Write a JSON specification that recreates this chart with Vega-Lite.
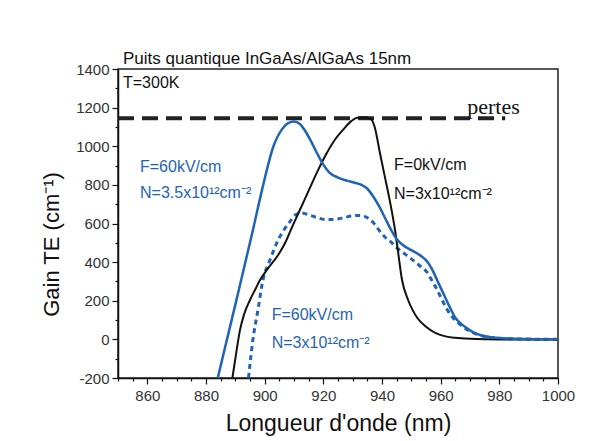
{
  "$schema": "https://vega.github.io/schema/vega-lite/v6.json",
  "autosize": {"type": "none"},
  "width": 440,
  "height": 309,
  "padding": {"left": 118, "top": 69, "right": 40, "bottom": 63},
  "background": "white",
  "config": {
    "view": {"stroke": "#222", "strokeWidth": 1.5},
    "axis": {
      "domainColor": "#111",
      "domainWidth": 1.5,
      "tickColor": "#111",
      "tickWidth": 1.2,
      "labelColor": "#333",
      "labelFont": "Liberation Sans",
      "labelFontSize": 15,
      "titleFont": "Liberation Sans",
      "titleFontSize": 22,
      "titleFontWeight": "normal",
      "titleColor": "#111",
      "grid": false
    }
  },
  "datasets": {
    "curves": [
      {"series": "F0N3", "x": 889, "y": -200},
      {"series": "F0N3", "x": 890.5, "y": -50},
      {"series": "F0N3", "x": 891.6, "y": 49},
      {"series": "F0N3", "x": 893, "y": 130},
      {"series": "F0N3", "x": 895, "y": 204},
      {"series": "F0N3", "x": 897, "y": 265},
      {"series": "F0N3", "x": 898.4, "y": 307},
      {"series": "F0N3", "x": 901, "y": 365},
      {"series": "F0N3", "x": 904.6, "y": 437},
      {"series": "F0N3", "x": 907, "y": 500},
      {"series": "F0N3", "x": 909, "y": 570},
      {"series": "F0N3", "x": 912, "y": 670},
      {"series": "F0N3", "x": 915, "y": 770},
      {"series": "F0N3", "x": 918, "y": 870},
      {"series": "F0N3", "x": 921, "y": 960},
      {"series": "F0N3", "x": 924, "y": 1035},
      {"series": "F0N3", "x": 927, "y": 1090},
      {"series": "F0N3", "x": 929.5, "y": 1130},
      {"series": "F0N3", "x": 931.5, "y": 1148},
      {"series": "F0N3", "x": 934, "y": 1150},
      {"series": "F0N3", "x": 936, "y": 1143},
      {"series": "F0N3", "x": 937.5, "y": 1100},
      {"series": "F0N3", "x": 939.3, "y": 965},
      {"series": "F0N3", "x": 941, "y": 840},
      {"series": "F0N3", "x": 942.5, "y": 730},
      {"series": "F0N3", "x": 943.5, "y": 650},
      {"series": "F0N3", "x": 944.5, "y": 560},
      {"series": "F0N3", "x": 945.5, "y": 450},
      {"series": "F0N3", "x": 946.8, "y": 310},
      {"series": "F0N3", "x": 948.9, "y": 204},
      {"series": "F0N3", "x": 950.5, "y": 150},
      {"series": "F0N3", "x": 952, "y": 112},
      {"series": "F0N3", "x": 955, "y": 65},
      {"series": "F0N3", "x": 958, "y": 35},
      {"series": "F0N3", "x": 961, "y": 18},
      {"series": "F0N3", "x": 965, "y": 8},
      {"series": "F0N3", "x": 970, "y": 3},
      {"series": "F0N3", "x": 980, "y": 0},
      {"series": "F0N3", "x": 1000, "y": 0},

      {"series": "F60N35", "x": 884, "y": -200},
      {"series": "F60N35", "x": 890, "y": 180},
      {"series": "F60N35", "x": 896, "y": 566},
      {"series": "F60N35", "x": 899.5, "y": 800},
      {"series": "F60N35", "x": 903, "y": 1000},
      {"series": "F60N35", "x": 906, "y": 1090},
      {"series": "F60N35", "x": 908, "y": 1120},
      {"series": "F60N35", "x": 910, "y": 1128},
      {"series": "F60N35", "x": 912, "y": 1115},
      {"series": "F60N35", "x": 914, "y": 1075},
      {"series": "F60N35", "x": 916, "y": 1020},
      {"series": "F60N35", "x": 918, "y": 960},
      {"series": "F60N35", "x": 920, "y": 905},
      {"series": "F60N35", "x": 922, "y": 865},
      {"series": "F60N35", "x": 925, "y": 838},
      {"series": "F60N35", "x": 928, "y": 822},
      {"series": "F60N35", "x": 931, "y": 810},
      {"series": "F60N35", "x": 933, "y": 800},
      {"series": "F60N35", "x": 935, "y": 780},
      {"series": "F60N35", "x": 937, "y": 740},
      {"series": "F60N35", "x": 939, "y": 690},
      {"series": "F60N35", "x": 941, "y": 630},
      {"series": "F60N35", "x": 943, "y": 570},
      {"series": "F60N35", "x": 945, "y": 520},
      {"series": "F60N35", "x": 947, "y": 490},
      {"series": "F60N35", "x": 950, "y": 462},
      {"series": "F60N35", "x": 953, "y": 435},
      {"series": "F60N35", "x": 955, "y": 410},
      {"series": "F60N35", "x": 957, "y": 365},
      {"series": "F60N35", "x": 959, "y": 300},
      {"series": "F60N35", "x": 961, "y": 235},
      {"series": "F60N35", "x": 963, "y": 170},
      {"series": "F60N35", "x": 965, "y": 112},
      {"series": "F60N35", "x": 967, "y": 80},
      {"series": "F60N35", "x": 969, "y": 58},
      {"series": "F60N35", "x": 971, "y": 38},
      {"series": "F60N35", "x": 974, "y": 20},
      {"series": "F60N35", "x": 978, "y": 10},
      {"series": "F60N35", "x": 984, "y": 4},
      {"series": "F60N35", "x": 992, "y": 1},
      {"series": "F60N35", "x": 1000, "y": 0},

      {"series": "F60N3", "x": 894.5, "y": -200},
      {"series": "F60N3", "x": 896, "y": 0},
      {"series": "F60N3", "x": 897.7, "y": 152},
      {"series": "F60N3", "x": 899.4, "y": 307},
      {"series": "F60N3", "x": 901.8, "y": 411},
      {"series": "F60N3", "x": 904.6, "y": 515},
      {"series": "F60N3", "x": 906.5, "y": 565},
      {"series": "F60N3", "x": 908.6, "y": 610},
      {"series": "F60N3", "x": 910.5, "y": 645},
      {"series": "F60N3", "x": 912.5, "y": 655},
      {"series": "F60N3", "x": 915, "y": 645},
      {"series": "F60N3", "x": 918, "y": 630},
      {"series": "F60N3", "x": 921, "y": 620},
      {"series": "F60N3", "x": 924, "y": 622},
      {"series": "F60N3", "x": 927, "y": 630},
      {"series": "F60N3", "x": 930, "y": 640},
      {"series": "F60N3", "x": 932.5, "y": 642},
      {"series": "F60N3", "x": 935, "y": 630},
      {"series": "F60N3", "x": 937, "y": 605},
      {"series": "F60N3", "x": 939, "y": 565},
      {"series": "F60N3", "x": 941, "y": 530},
      {"series": "F60N3", "x": 943, "y": 505},
      {"series": "F60N3", "x": 945, "y": 475},
      {"series": "F60N3", "x": 948, "y": 440},
      {"series": "F60N3", "x": 951, "y": 405},
      {"series": "F60N3", "x": 953, "y": 380},
      {"series": "F60N3", "x": 955.3, "y": 349},
      {"series": "F60N3", "x": 957, "y": 305},
      {"series": "F60N3", "x": 958.5, "y": 265},
      {"series": "F60N3", "x": 960.5, "y": 204},
      {"series": "F60N3", "x": 962, "y": 160},
      {"series": "F60N3", "x": 963.5, "y": 125},
      {"series": "F60N3", "x": 966, "y": 85},
      {"series": "F60N3", "x": 968.5, "y": 55},
      {"series": "F60N3", "x": 971, "y": 35},
      {"series": "F60N3", "x": 974, "y": 18},
      {"series": "F60N3", "x": 978, "y": 8},
      {"series": "F60N3", "x": 984, "y": 3},
      {"series": "F60N3", "x": 992, "y": 1},
      {"series": "F60N3", "x": 1000, "y": 0}
    ],
    "losses": [
      {"x": 850, "y": 1145},
      {"x": 982, "y": 1145}
    ],
    "labels": [
      {"series": "F60N35", "x": 857.5, "y": 893, "text": "F=60kV/cm"},
      {"series": "F60N35", "x": 857.5, "y": 758, "text": "N=3.5x10¹²cm⁻²"},
      {"series": "F0N3", "x": 944.1, "y": 903, "text": "F=0kV/cm"},
      {"series": "F0N3", "x": 944.1, "y": 753, "text": "N=3x10¹²cm⁻²"},
      {"series": "F60N3", "x": 902.4, "y": 126, "text": "F=60kV/cm"},
      {"series": "F60N3", "x": 902.4, "y": -19, "text": "N=3x10¹²cm⁻²"},
      {"series": "note", "x": 851.7, "y": 1327, "text": "T=300K"}
    ],
    "heading": [
      {"x": 851.7, "y": 1427, "text": "Puits quantique InGaAs/AlGaAs 15nm"}
    ],
    "pertes": [
      {"x": 978, "y": 1166, "text": "pertes"}
    ]
  },
  "layer": [
    {
      "data": {"name": "losses"},
      "mark": {"type": "line", "color": "#222", "strokeWidth": 4, "strokeDash": [16, 8]},
      "encoding": {
        "x": {"field": "x", "type": "quantitative"},
        "y": {"field": "y", "type": "quantitative"}
      }
    },
    {
      "data": {"name": "curves"},
      "transform": [{"filter": "datum.series === 'F60N3'"}],
      "mark": {"type": "line", "color": "#1f64b4", "strokeWidth": 3, "strokeDash": [5, 4], "interpolate": "monotone"},
      "encoding": {
        "x": {"field": "x", "type": "quantitative"},
        "y": {"field": "y", "type": "quantitative"}
      }
    },
    {
      "data": {"name": "curves"},
      "transform": [{"filter": "datum.series === 'F0N3'"}],
      "mark": {"type": "line", "color": "#111", "strokeWidth": 2, "interpolate": "monotone"},
      "encoding": {
        "x": {"field": "x", "type": "quantitative"},
        "y": {"field": "y", "type": "quantitative"}
      }
    },
    {
      "data": {"name": "curves"},
      "transform": [{"filter": "datum.series === 'F60N35'"}],
      "mark": {"type": "line", "color": "#1f64b4", "strokeWidth": 2.5, "interpolate": "monotone"},
      "encoding": {
        "x": {
          "field": "x",
          "type": "quantitative",
          "scale": {"domain": [850, 1000], "nice": false, "zero": false},
          "axis": {
            "title": "Longueur d'onde (nm)",
            "titleFontSize": 23,
            "values": [850, 855, 860, 865, 870, 875, 880, 885, 890, 895, 900, 905, 910, 915, 920, 925, 930, 935, 940, 945, 950, 955, 960, 965, 970, 975, 980, 985, 990, 995, 1000],
            "tickCount": 200,
            "labelExpr": "(datum.value % 20 == 0) && (datum.value > 850) ? format(datum.value, 'd') : ''",
            "labelOverlap": false,
            "tickSize": {"condition": {"test": "datum.value % 20 == 0", "value": 6}, "value": 3},
            "labelPadding": 4,
            "titlePadding": 9,
            "labelFlush": false
          }
        },
        "y": {
          "field": "y",
          "type": "quantitative",
          "scale": {"domain": [-200, 1400], "nice": false, "zero": false},
          "axis": {
            "title": "Gain TE (cm⁻¹)",
            "values": [-200, -100, 0, 100, 200, 300, 400, 500, 600, 700, 800, 900, 1000, 1100, 1200, 1300, 1400],
            "tickCount": 200,
            "labelExpr": "(datum.value % 200 == 0) ? replace(format(datum.value, 'd'), '−', '-') : ''",
            "labelOverlap": false,
            "tickSize": {"condition": {"test": "datum.value % 200 == 0", "value": 6}, "value": 3},
            "labelPadding": 3,
            "titlePadding": 12,
            "titleY": 175,
            "labelFlush": false
          }
        }
      }
    },
    {
      "data": {"name": "labels"},
      "mark": {"type": "text", "align": "left", "baseline": "middle", "font": "Liberation Sans", "fontSize": 16},
      "encoding": {
        "x": {"field": "x", "type": "quantitative"},
        "y": {"field": "y", "type": "quantitative"},
        "text": {"field": "text"},
        "color": {
          "field": "series",
          "type": "nominal",
          "scale": {"domain": ["F0N3", "F60N35", "F60N3", "note"], "range": ["#111111", "#1f64b4", "#1f64b4", "#111111"]},
          "legend": null
        }
      }
    },
    {
      "data": {"name": "heading"},
      "mark": {"type": "text", "align": "left", "baseline": "alphabetic", "font": "Liberation Sans", "fontSize": 17, "color": "#111"},
      "encoding": {
        "x": {"field": "x", "type": "quantitative"},
        "y": {"field": "y", "type": "quantitative"},
        "text": {"field": "text"}
      }
    },
    {
      "data": {"name": "pertes"},
      "mark": {"type": "text", "align": "center", "baseline": "alphabetic", "font": "Liberation Serif", "fontSize": 22, "color": "#111"},
      "encoding": {
        "x": {"field": "x", "type": "quantitative"},
        "y": {"field": "y", "type": "quantitative"},
        "text": {"field": "text"}
      }
    }
  ]
}
